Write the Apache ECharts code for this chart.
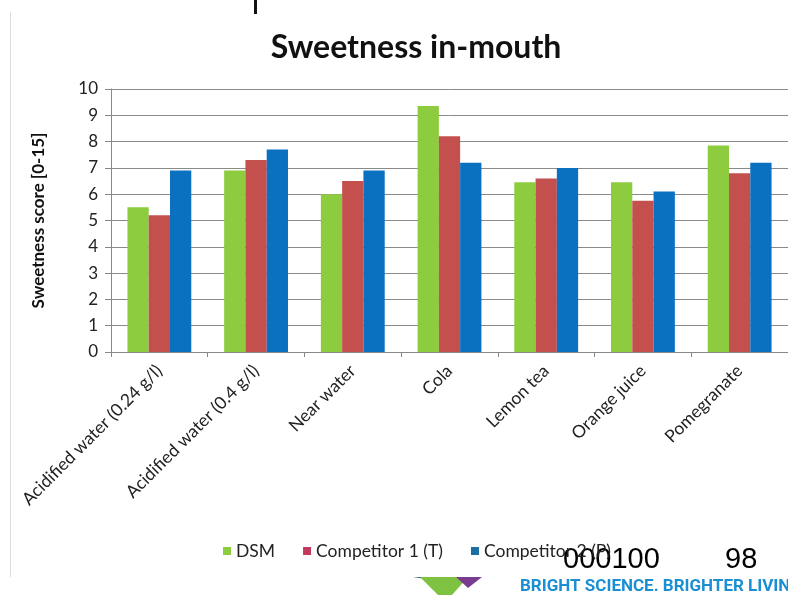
<!DOCTYPE html>
<html><head><meta charset="utf-8">
<script src="https://cdn.jsdelivr.net/npm/echarts@6/dist/echarts.min.js"></script>
<style>html,body{margin:0;padding:0;background:#fff}#c{width:788px;height:595px}</style>
</head><body><div id="c"></div>
<script>
const categories = ['Acidified water (0.24 g/l)','Acidified water (0.4 g/l)','Near water','Cola','Lemon tea','Orange juice','Pomegranate'];
const seriesNames = ['DSM','Competitor 1 (T)','Competitor 2 (P)'];
const dsm = [5.5, 6.9, 6.0, 9.35, 6.45, 6.45, 7.85];
const comp1 = [5.2, 7.3, 6.5, 8.2, 6.6, 5.75, 6.8];
const comp2 = [6.9, 7.7, 6.9, 7.2, 7.0, 6.1, 7.2];
const colors = ['#8DCB3F','#C4504E','#0A70C0'];
const legendColors = ['#8DCB3F','#C0395E','#1A6FA0'];
const F = 'Lato, "Open Sans", sans-serif';

const chart = echarts.init(document.getElementById('c'));
const mk = (name, data, i) => ({
  name, type:'bar', data, barGap:'0%', barCategoryGap:'34%',
  itemStyle:{color:colors[i]}
});
chart.setOption({
  animation:false,
  title:{text:'Sweetness in-mouth', left:411, top:27, textAlign:'center',
    textStyle:{fontFamily:F, fontWeight:'bold', fontSize:32, color:'#111'}},
  legend:{left:218, top:537, itemWidth:8, itemHeight:8, itemGap:28,
    data:seriesNames.map((n,i)=>({name:n, itemStyle:{color:legendColors[i]}})),
    icon:'rect', textStyle:{fontFamily:F, fontSize:17.5, color:'#222'}},
  grid:{left:111, top:89, width:683, height:263},
  xAxis:{type:'category', data:categories,
    axisLine:{lineStyle:{color:'#888'}},
    axisTick:{show:true, length:5, lineStyle:{color:'#888'}},
    axisLabel:{rotate:45, fontFamily:F, fontSize:17.5, color:'#222', interval:0, margin:16}},
  yAxis:{type:'value', min:0, max:10, interval:1,
    name:'Sweetness score [0-15]', nameLocation:'middle', nameGap:64,
    nameTextStyle:{fontFamily:F, fontWeight:'bold', fontSize:17, color:'#111'},
    axisLine:{show:true, lineStyle:{color:'#888'}},
    axisTick:{show:true, length:6, lineStyle:{color:'#888'}},
    splitLine:{lineStyle:{color:'#8a8a8a', width:1}},
    axisLabel:{fontFamily:F, fontSize:17, color:'#222', margin:13}},
  series:[mk(seriesNames[0], dsm, 0), mk(seriesNames[1], comp1, 1), mk(seriesNames[2], comp2, 2)],
  graphic:[
    {type:'rect', shape:{x:10, y:12, width:1, height:565}, style:{fill:'#ddd'}},
    {type:'rect', shape:{x:254, y:0, width:3, height:14}, style:{fill:'#111'}},
    {type:'rect', shape:{x:0, y:577, width:788, height:18}, style:{fill:'#fff'}},
    {type:'polygon', shape:{points:[[413,577],[442,577],[446,582]]}, style:{fill:'#1f5f8a'}},
    {type:'polygon', shape:{points:[[420,577],[468,577],[452,595],[438,595]]}, style:{fill:'#7fc241'}},
    {type:'polygon', shape:{points:[[456,577],[482,577],[468,588]]}, style:{fill:'#7a3c8e'}},
    {type:'text', left:563, top:545, style:{text:'000100', font:'29px "Liberation Sans", Arial, sans-serif', fill:'#000'}},
    {type:'text', left:725, top:545, style:{text:'98', font:'29px "Liberation Sans", Arial, sans-serif', fill:'#000'}},
    {type:'text', left:520, top:578, style:{text:'BRIGHT SCIENCE. BRIGHTER LIVING.', font:'bold 17px "Liberation Sans Narrow", "Roboto", sans-serif', fill:'#1A8FD3'}}
  ]
});
</script></body></html>
